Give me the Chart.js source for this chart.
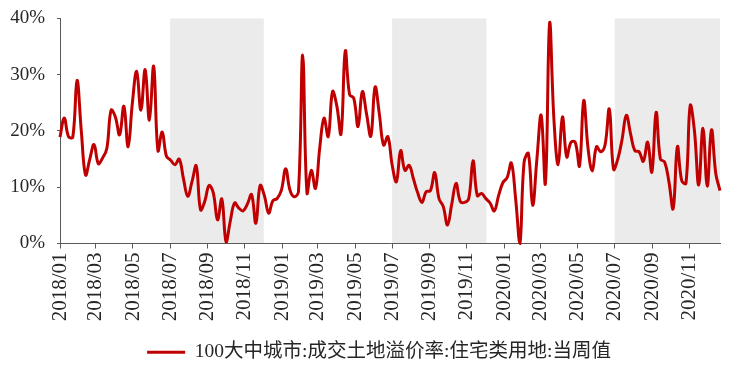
<!DOCTYPE html>
<html>
<head>
<meta charset="utf-8">
<script src="https://cdn.jsdelivr.net/npm/chart.js@4.4.1/dist/chart.umd.min.js"></script>
<style>
  html, body { margin: 0; padding: 0; background: #fff; }
  #wrap { width: 734px; height: 372px; }
</style>
</head>
<body>
<div id="wrap"><canvas id="chart" width="734" height="372"></canvas></div>
<script>
// weekly series, first week starts 2018-01-01
const seriesName = '100大中城市:成交土地溢价率:住宅类用地:当周值';
const firstWeek = '2018-01-01';

const premiumRate = [
  18.9, 22.3, 19.0, 18.9, 29.0, 20.0, 12.2, 15.0, 17.6, 14.2,
  15.2, 16.9, 23.7, 22.5, 19.3, 24.4, 17.2, 25.0, 30.6, 23.7,
  30.9, 21.9, 31.5, 16.5, 19.8, 15.5, 14.8, 14.0, 15.0, 11.5,
  8.4, 11.0, 13.8, 6.0, 7.5, 10.3, 9.0, 4.2, 7.9, 0.3,
  4.0, 7.2, 6.3, 5.8, 7.0, 8.7, 3.6, 10.3, 8.5, 5.4,
  7.6, 8.0, 9.5, 13.3, 9.5, 8.3, 9.2, 33.5, 9.0, 13.0,
  9.8, 17.0, 22.3, 19.0, 27.0, 24.5, 19.5, 34.2, 26.5, 25.8,
  20.8, 27.0, 23.0, 19.1, 27.8, 23.0, 17.5, 19.0, 14.0, 11.0,
  16.5, 13.0, 13.9, 11.5, 9.0, 7.3, 9.2, 9.4, 12.6, 8.0,
  6.6, 3.3, 7.0, 10.7, 7.5, 7.3, 8.0, 14.7, 8.5, 8.9,
  8.0, 7.2, 5.8, 8.5, 10.8, 11.7, 14.3, 8.0, 0.0, 14.5,
  16.0, 6.8, 15.0, 22.8, 10.7, 39.3, 22.0, 14.0, 22.5, 15.4,
  18.0, 18.0, 13.8, 25.4, 17.0, 12.9, 17.2, 16.3, 17.5, 23.9,
  13.2, 15.0, 18.5, 22.8, 19.5, 16.5, 16.3, 14.6, 18.0, 12.7,
  23.3, 15.0, 14.5, 11.0, 6.2, 17.2, 11.2, 10.7, 24.5, 20.0,
  10.4, 20.5, 10.2, 20.2, 12.5, 9.4
];

const tickMonths = [
  '2018/01', '2018/03', '2018/05', '2018/07', '2018/09', '2018/11',
  '2019/01', '2019/03', '2019/05', '2019/07', '2019/09', '2019/11',
  '2020/01', '2020/03', '2020/05', '2020/07', '2020/09', '2020/11'
];

const yTicks = [0, 10, 20, 30, 40];

// grey bands (second half of each year)
const shadedPeriods = [
  ['2018-07-01', '2018-12-02'],
  ['2019-07-01', '2019-12-03'],
  ['2020-07-01', '2020-12-21']
];

const dayOf = (s) => {
  const [y, m, d] = s.split(/[-\/]/).map(Number);
  return (Date.UTC(y, m - 1, d || 1) - Date.UTC(2018, 0, 1)) / 864e5;
};

const start = dayOf(firstWeek);
const points = premiumRate.map((v, i) => ({ x: start + i * 7, y: v }));
const lastX = points[points.length - 1].x;

const tickLabelByDay = {};
tickMonths.forEach(t => { tickLabelByDay[dayOf(t)] = t; });

const serif = "'Liberation Serif', 'Times New Roman', serif";
const legendFont = "'Liberation Serif', 'Noto Sans CJK SC', serif";
const axisColor = '#595959';
const textColor = '#262626';

const shadePlugin = {
  id: 'shade',
  afterLayout(chart) {
    // legend sits a bit right of the canvas centre
    chart.legend.left += 19;
    chart.legend.right += 19;
  },
  beforeDraw(chart) {
    const { ctx, scales: { x, y } } = chart;
    const top = y.getPixelForValue(yTicks[yTicks.length - 1]);
    const bottom = y.getPixelForValue(0);
    ctx.save();
    ctx.fillStyle = '#ebebeb';
    shadedPeriods.forEach(([a, b]) => {
      const x1 = x.getPixelForValue(dayOf(a));
      const x2 = x.getPixelForValue(dayOf(b));
      ctx.fillRect(x1, top, x2 - x1, bottom - top);
    });
    ctx.restore();
  }
};

new Chart(document.getElementById('chart'), {
  type: 'line',
  data: {
    datasets: [{
      label: seriesName,
      data: points,
      borderColor: '#c00000',
      backgroundColor: '#c00000',
      borderWidth: 3,
      pointRadius: 0,
      tension: 0.4,
      fill: false,
      clip: 4
    }]
  },
  options: {
    responsive: false,
    animation: false,
    devicePixelRatio: 1,
    layout: { padding: { top: 4, right: 14, bottom: 0, left: 0 } },
    scales: {
      x: {
        type: 'linear',
        min: 0,
        max: lastX,
        afterBuildTicks: (s) => { s.ticks = tickMonths.map(t => ({ value: dayOf(t) })); },
        afterFit: (s) => { s.height = 89; },
        ticks: {
          autoSkip: false,
          maxRotation: 90,
          minRotation: 90,
          padding: 4,
          color: textColor,
          font: { family: serif, size: 21 },
          callback: (v) => tickLabelByDay[v] || ''
        },
        grid: { drawOnChartArea: false, drawTicks: true, tickLength: 5, color: axisColor },
        border: { display: true, color: axisColor, width: 1 }
      },
      y: {
        min: 0,
        max: 40,
        afterBuildTicks: (s) => { s.ticks = yTicks.map(v => ({ value: v })); },
        afterFit: (s) => { s.width = 60; },
        ticks: {
          padding: 12,
          color: textColor,
          font: { family: serif, size: 19, lineHeight: 0.68 },
          callback: (v) => v + '%'
        },
        grid: { drawOnChartArea: false, drawTicks: true, tickLength: 3, color: axisColor },
        border: { display: true, color: axisColor, width: 1 }
      }
    },
    plugins: {
      tooltip: { enabled: false },
      legend: {
        position: 'bottom',
        labels: {
          usePointStyle: true,
          pointStyle: 'line',
          pointStyleWidth: 38,
          padding: 10,
          color: textColor,
          font: { family: legendFont, size: 19.5 }
        }
      }
    }
  },
  plugins: [shadePlugin]
});
</script>
</body>
</html>
